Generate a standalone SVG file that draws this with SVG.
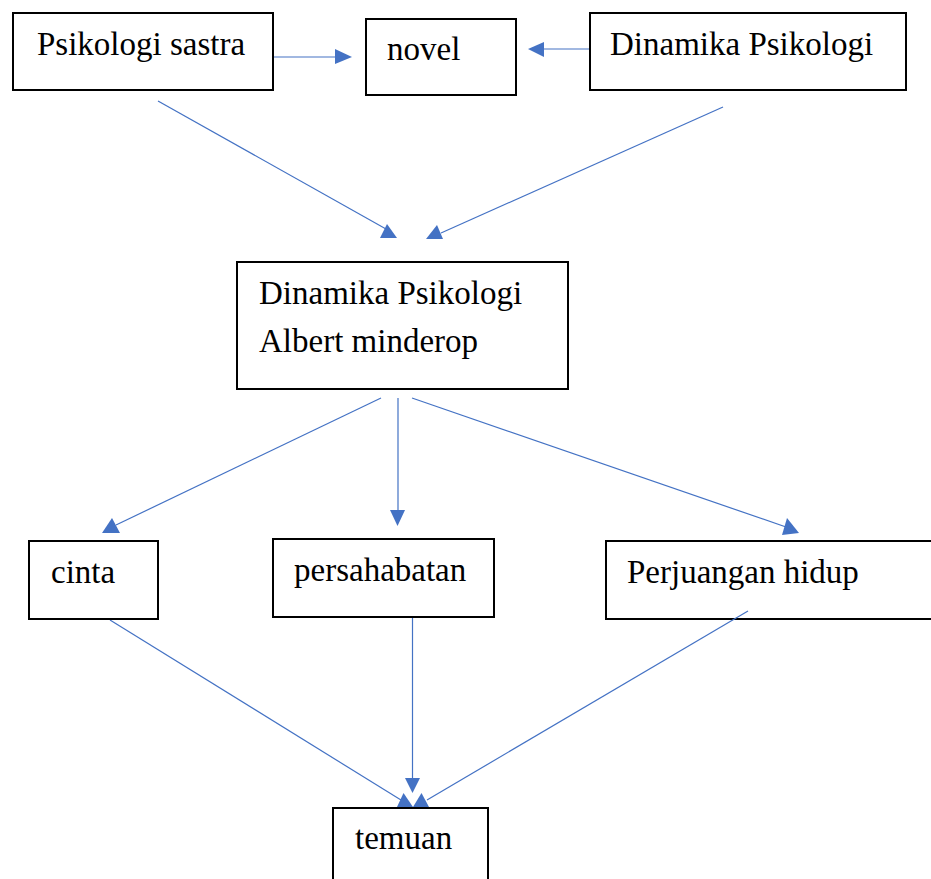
<svg xmlns="http://www.w3.org/2000/svg" width="931" height="879" viewBox="0 0 931 879">
<style>
.box{fill:#fff;stroke:#000;stroke-width:2}
.t{font-family:"Liberation Serif","Times New Roman",serif;font-size:33px;fill:#000}
.ln{stroke:#4472C4;stroke-width:1.2;fill:none}
.hd{fill:#4472C4;stroke:none}
</style>
<rect width="931" height="879" fill="#fff"/>
<g id="connectors">
<line class="ln" x1="274" y1="57" x2="337" y2="57"/>
<polygon class="hd" points="335,49 352,57 335,64"/>
<line class="ln" x1="590" y1="49" x2="542" y2="49"/>
<polygon class="hd" points="544,42 528,49 544,57"/>
<line class="ln" x1="158" y1="101" x2="386" y2="229"/>
<polygon class="hd" points="380,238 397,238 387,224"/>
<line class="ln" x1="723" y1="107" x2="441" y2="233"/>
<polygon class="hd" points="426,239 443,239 437,225"/>
<line class="ln" x1="381" y1="398" x2="116" y2="525"/>
<polygon class="hd" points="102,533 120,533 112,518"/>
<line class="ln" x1="398" y1="398" x2="398" y2="511"/>
<polygon class="hd" points="390,510 405,510 397.5,526"/>
<line class="ln" x1="412" y1="398" x2="786" y2="527"/>
<polygon class="hd" points="782,535 799,533 787,518"/>
<line class="ln" x1="110" y1="620" x2="401" y2="800"/>
<polygon class="hd" points="397,807 413,807 403.5,793"/>
<line class="ln" x1="412.5" y1="618" x2="412.5" y2="779"/>
<polygon class="hd" points="405,778 420,778 412.5,793"/>
<polygon class="hd" points="413,807 429,807 421.5,793"/>
</g>
<g id="psikologi-sastra"><rect class="box" x="13" y="13" width="260" height="77"/><text class="t" x="37" y="55">Psikologi sastra</text></g>
<g id="novel"><rect class="box" x="366" y="19" width="150" height="76"/><text class="t" x="387" y="60">novel</text></g>
<g id="dinamika-top"><rect class="box" x="590" y="13" width="316" height="77"/><text class="t" x="610" y="55">Dinamika Psikologi</text></g>
<g id="dinamika-albert"><rect class="box" x="237" y="262" width="331" height="127"/><text class="t" x="259" y="304">Dinamika Psikologi</text><text class="t" x="259" y="352">Albert minderop</text></g>
<g id="cinta"><rect class="box" x="29" y="541" width="129" height="78"/><text class="t" x="51" y="583">cinta</text></g>
<g id="persahabatan"><rect class="box" x="273" y="539" width="221" height="78"/><text class="t" x="294" y="581">persahabatan</text></g>
<g id="perjuangan"><rect class="box" x="606" y="541" width="330" height="78"/><text class="t" x="627" y="583">Perjuangan hidup</text></g>
<g id="temuan"><rect class="box" x="333" y="808" width="155" height="80"/><text class="t" x="355" y="849">temuan</text></g>
<g id="connectors-over"><line class="ln" x1="748" y1="611" x2="427" y2="800"/></g>
</svg>
